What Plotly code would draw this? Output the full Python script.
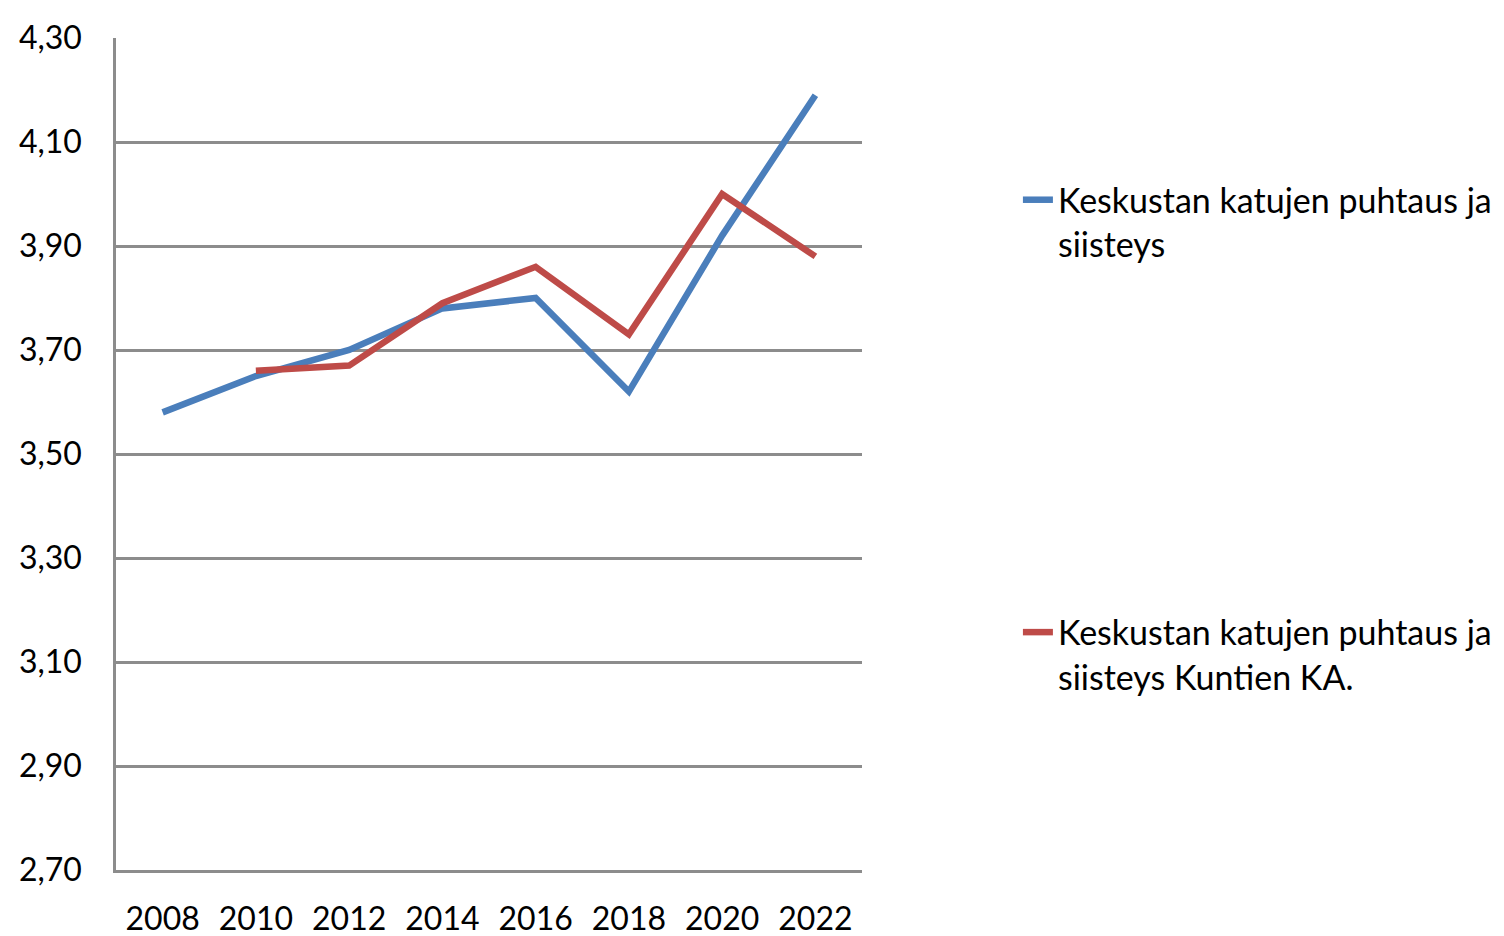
import plotly.graph_objects as go

years = ["2008", "2010", "2012", "2014", "2016", "2018", "2020", "2022"]
city = [3.58, 3.65, 3.70, 3.78, 3.80, 3.62, 3.92, 4.19]
avg = [None, 3.66, 3.67, 3.79, 3.86, 3.73, 4.00, 3.88]
yticks = [2.7, 2.9, 3.1, 3.3, 3.5, 3.7, 3.9, 4.1, 4.3]
yticklabels = ["2,70", "2,90", "3,10", "3,30", "3,50", "3,70", "3,90", "4,10", "4,30"]
names = ["Keskustan katujen puhtaus ja<br>siisteys",
         "Keskustan katujen puhtaus ja<br>siisteys Kuntien KA."]

FONT = "Lato"
fig = go.Figure()
fig.add_trace(go.Scatter(x=years, y=city, mode="lines", name=names[0],
                         legendgroup="a",
                         line=dict(color="#4a7ebb", width=6.5)))
fig.add_trace(go.Scatter(x=years, y=avg, mode="lines", name=names[1],
                         legendgroup="b",
                         line=dict(color="#be4b48", width=6.5)))

fig.update_layout(
    width=1496, height=928,
    margin=dict(l=108, r=642, t=30, b=66, autoexpand=False),
    paper_bgcolor="white", plot_bgcolor="white",
    font=dict(family=FONT, size=32, color="black"),
    showlegend=True,
    legend=dict(x=1.209, y=0.84, xanchor="left", yanchor="top",
                valign="top", tracegroupgap=341,
                font=dict(family=FONT, size=34, color="black"),
                bgcolor="rgba(0,0,0,0)"),
    xaxis=dict(type="category", range=[-0.5, 7.5], showgrid=False,
               showline=True, linecolor="#8c8c8c", linewidth=2.5,
               ticks="", ticklabelstandoff=19, tickfont=dict(size=32),
               automargin=False),
    yaxis=dict(range=[2.7, 4.3], tickvals=yticks, ticktext=yticklabels,
               showgrid=True, gridcolor="#8c8c8c", gridwidth=2.5,
               showline=True, linecolor="#8c8c8c", linewidth=2.5,
               zeroline=False, ticks="", ticklabelstandoff=25,
               tickfont=dict(size=32), automargin=False),
)

fig.write_html("out.html")
